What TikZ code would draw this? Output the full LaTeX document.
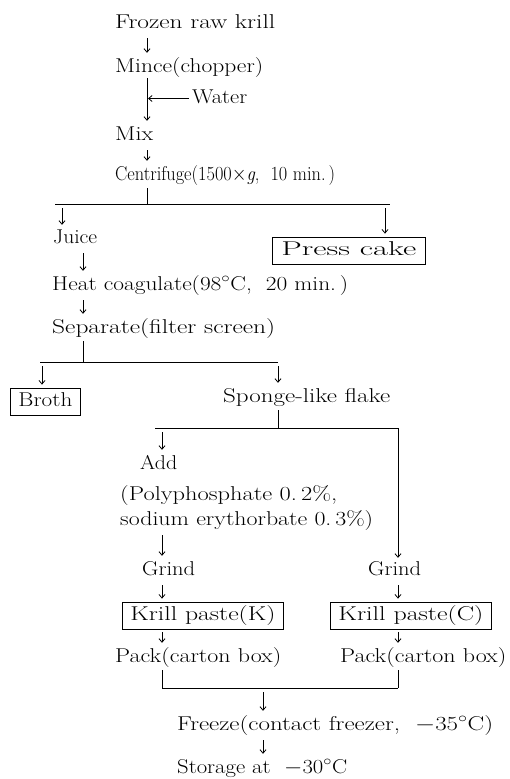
\documentclass[tikz,border=0pt]{standalone}
\usetikzlibrary{arrows.meta}
\newcommand{\fitw}[2]{\resizebox{#1pt}{\height}{#2}}
\begin{document}
\begin{tikzpicture}[x=1pt,y=-1pt,
  txt/.style={font=\fontsize{20}{24}\selectfont, inner sep=0pt, anchor=base west, text height=14pt, text depth=5pt},
  boxed/.style={txt, draw, line width=0.8pt, inner xsep=8pt, inner ysep=4pt},
  arr/.style={-{Straight Barb[length=3.5pt,width=6pt]}, line width=0.8pt, shorten <=5pt, shorten >=5pt},
  ln/.style={line width=1pt}]
\useasboundingbox (0,0) rectangle (510,779);
% text nodes
\node[txt] (frozen) at (115,28) {\fitw{160}{Frozen raw krill}};
\node[txt] (mince) at (115,72) {\fitw{148}{Mince(chopper)}};
\node[txt] (water) at (192,103) {\fitw{55}{Water}};
\node[txt] (mix) at (115,140) {\fitw{38}{Mix}};
\node[txt] (cent) at (115,180) {\fitw{220}{Centrifuge(1500$\times$\textit{g}, \ 10 min.\,)}};
\node[txt] (juice) at (53,243) {\fitw{44}{Juice}};
\node[boxed, inner xsep=9pt] (press) at (272,255) {\fitw{135}{Press cake}};
\node[txt] (heat) at (52,290) {\fitw{296}{Heat coagulate(98$^\circ$C, \ 20 min.\,)}};
\node[txt] (sep) at (52,333) {\fitw{223}{Separate(filter screen)}};
\node[boxed] (broth) at (10,406) {\fitw{54}{Broth}};
\node[txt] (sponge) at (223,402) {\fitw{167}{Sponge-like flake}};
\node[txt] (add) at (140,469) {\fitw{37}{Add}};
\node[txt] (poly) at (120,500) {\fitw{217}{(Polyphosphate 0.\,2\%,}};
\node[txt] (sod) at (120,525) {\fitw{253}{sodium erythorbate 0.\,3\%)}};
\node[txt] (grindK) at (142,575) {\fitw{53}{Grind}};
\node[txt] (grindC) at (368,575) {\fitw{53}{Grind}};
\node[boxed] (pasteK) at (122,620) {\fitw{145}{Krill paste(K)}};
\node[boxed] (pasteC) at (330,620) {\fitw{145}{Krill paste(C)}};
\node[txt] (packK) at (115,662) {\fitw{166}{Pack(carton box)}};
\node[txt] (packC) at (340,662) {\fitw{166}{Pack(carton box)}};
\node[txt] (freeze) at (177,730) {\fitw{316}{Freeze(contact freezer, \ $-$35$^\circ$C)}};
\node[txt] (stor) at (177,773) {\fitw{170}{Storage at \ $-$30$^\circ$C}};
% columns
\coordinate (xA) at (147,0);
\coordinate (xJ) at (83,0);
\coordinate (xL) at (62,0);
\coordinate (xP) at (385,0);
\coordinate (xB) at (42,0);
\coordinate (xS) at (278,0);
\coordinate (xK) at (162,0);
\coordinate (xC) at (398,0);
\coordinate (xF) at (263,0);
% branch lines
\coordinate (l1a) at (55,204); \coordinate (l1b) at (390,204);
\coordinate (l2a) at (40,362); \coordinate (l2b) at (278,362);
\coordinate (l3a) at (155,428); \coordinate (l3b) at (398,428);
\coordinate (l4a) at (162,688); \coordinate (l4b) at (398,688);
% connectors
\draw[arr] (frozen.south -| xA) -- (mince.north -| xA);
\draw[arr, shorten <=1pt] (mince.south -| xA) -- (mix.north -| xA);
\draw[arr, shorten <=3pt, shorten >=1pt] (water.west) -- (water.west -| xA);
\draw[arr] (mix.south -| xA) -- (cent.north -| xA);
\draw[ln, shorten <=3pt] (cent.south -| xA) -- (l1a -| xA);
\draw[ln] (l1a) -- (l1b);
\draw[arr, shorten <=4pt, shorten >=4pt] (l1a -| xL) -- (juice.north -| xL);
\draw[arr, shorten <=4pt, shorten >=3pt] (l1a -| xP) -- (press.north -| xP);
\draw[arr] (juice.south -| xJ) -- (heat.north -| xJ);
\draw[arr] (heat.south -| xJ) -- (sep.north -| xJ);
\draw[ln, shorten <=3pt] (sep.south -| xJ) -- (l2a -| xJ);
\draw[ln] (l2a) -- (l2b);
\draw[arr, shorten <=4pt, shorten >=3pt] (l2a -| xB) -- (broth.north -| xB);
\draw[arr, shorten <=4pt] (l2a -| xS) -- (sponge.north -| xS);
\draw[ln, shorten <=3pt] (sponge.south -| xS) -- (l3a -| xS);
\draw[ln] (l3a) -- (l3b);
\draw[arr, shorten <=4pt] (l3a -| xK) -- (add.north -| xK);
\draw[arr, shorten <=0pt, shorten >=3pt] (l3b) -- (grindC.north -| xC);
\draw[arr] (sod.south -| xK) -- (grindK.north -| xK);
\draw[arr, shorten >=3pt] (grindK.south -| xK) -- (pasteK.north -| xK);
\draw[arr, shorten >=3pt] (grindC.south -| xC) -- (pasteC.north -| xC);
\draw[arr, shorten <=3pt] (pasteK.south -| xK) -- (packK.north -| xK);
\draw[arr, shorten <=3pt] (pasteC.south -| xC) -- (packC.north -| xC);
\draw[ln, shorten <=3pt] (packK.south -| xK) -- (l4a);
\draw[ln, shorten <=3pt] (packC.south -| xC) -- (l4b);
\draw[ln] (l4a) -- (l4b);
\draw[arr, shorten <=4pt] (l4a -| xF) -- (freeze.north -| xF);
\draw[arr] (freeze.south -| xF) -- (stor.north -| xF);
\end{tikzpicture}
\end{document}
